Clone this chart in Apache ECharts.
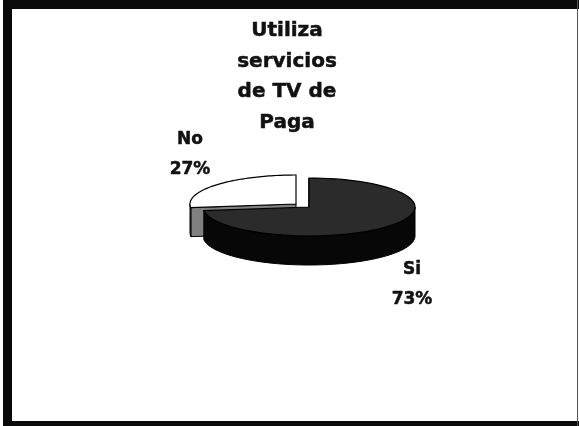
<!DOCTYPE html>
<html>
<head>
<meta charset="utf-8">
<style>
  html, body { margin: 0; padding: 0; background: #fff; }
  #chart { width: 579px; height: 426px; filter: blur(0.5px); }
</style>
<script src="https://cdn.jsdelivr.net/npm/echarts@6/dist/echarts.min.js"></script>
</head>
<body>
<div id="chart"></div>
<script>
const categories = ['Si', 'No']
const values = [73, 27]
const titleLines = ['Utiliza', 'servicios', 'de TV de', 'Paga']

// look of the flattened 3d pie
const radiusX = 106
const radiusY = 29
const depth = 29
const centers = { Si: [309, 207], No: [296, 204] }
const topColors = { Si: '#2b2b2b', No: '#ffffff' }
const wallColors = { Si: '#070707', No: '#808080' }
const labelPos = { Si: [412, 285], No: [190, 155] }

const total = values.reduce((a, b) => a + b, 0)
const fontFamily = '"DejaVu Sans", sans-serif'

function rimPoint (c, a, drop) {
  return [c[0] + radiusX * Math.sin(a), c[1] - radiusY * Math.cos(a) + drop]
}

function rim (c, a0, a1, drop) {
  const pts = []
  const n = 72
  for (let i = 0; i <= n; i++) {
    pts.push(rimPoint(c, a0 + (a1 - a0) * i / n, drop))
  }
  return pts
}

function renderSlice (params, api) {
  const i = params.dataIndex
  const name = categories[i]
  const c = centers[name]
  const before = values.slice(0, i).reduce((a, b) => a + b, 0)
  const a0 = before / total * Math.PI * 2
  const a1 = (before + api.value(0)) / total * Math.PI * 2
  const children = []
  // the back slice is drawn first, the front one goes over it
  const base = name === 'Si' ? 10 : 0

  // radial cut at the start of the slice
  const cut = rimPoint(c, a0, 0)
  children.push({
    type: 'polygon',
    shape: { points: [c, cut, [cut[0], cut[1] + depth], [c[0], c[1] + depth]] },
    style: { fill: wallColors[name], stroke: '#000', lineWidth: 1 },
    z2: base
  })

  // outer wall, only the part facing the viewer
  const w0 = Math.max(a0, Math.PI / 2)
  const w1 = Math.min(a1, Math.PI * 1.5)
  if (w1 > w0) {
    const upper = rim(c, w0, w1, 0)
    const lower = rim(c, w0, w1, depth).reverse()
    children.push({
      type: 'polygon',
      shape: { points: upper.concat(lower) },
      style: { fill: wallColors[name], stroke: '#000', lineWidth: 1 },
      z2: base + 1
    })
  }

  // top face
  children.push({
    type: 'polygon',
    shape: { points: [c].concat(rim(c, a0, a1, 0)) },
    style: { fill: topColors[name], stroke: '#000', lineWidth: 1.2 },
    z2: base + 2
  })

  // label, category and share
  const pos = labelPos[name]
  children.push({
    type: 'text',
    style: {
      text: name + '\n' + Math.round(api.value(0) / total * 100) + '%',
      x: pos[0],
      y: pos[1],
      align: 'center',
      verticalAlign: 'middle',
      fill: '#111',
      font: 'bold 17px ' + fontFamily,
      lineHeight: 30,
      stroke: '#111',
      lineWidth: 0.5
    },
    z2: 30
  })
  return { type: 'group', children }
}

const chart = echarts.init(document.getElementById('chart'), null, { renderer: 'canvas' })
chart.setOption({
  animation: false,
  backgroundColor: '#ffffff',
  title: {
    text: titleLines.join('\n'),
    left: 282,
    top: 11,
    textAlign: 'center',
    textStyle: {
      fontFamily: fontFamily,
      fontWeight: 'bold',
      fontSize: 20,
      lineHeight: 30.5,
      color: '#111',
      textBorderColor: '#111',
      textBorderWidth: 0.5
    }
  },
  xAxis: { show: false },
  yAxis: { show: false },
  series: [{
    type: 'custom',
    coordinateSystem: 'none',
    renderItem: renderSlice,
    data: values.map(v => [v]),
    silent: true
  }],
  graphic: [
    { type: 'rect', shape: { x: 3, y: 0, width: 576, height: 9 }, style: { fill: '#0a0a0a' } },
    { type: 'rect', shape: { x: 3, y: 0, width: 9, height: 426 }, style: { fill: '#0a0a0a' } },
    { type: 'rect', shape: { x: 3, y: 421, width: 576, height: 5 }, style: { fill: '#0a0a0a' } },
    { type: 'rect', shape: { x: 577, y: 0, width: 1, height: 426 }, style: { fill: '#555' } }
  ]
})
</script>
</body>
</html>
